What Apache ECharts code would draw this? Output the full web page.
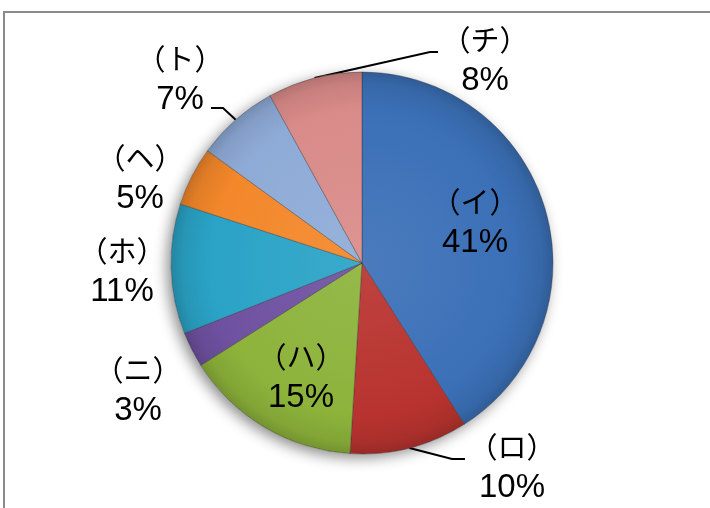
<!DOCTYPE html>
<html>
<head>
<meta charset="utf-8">
<script src="https://cdn.jsdelivr.net/npm/echarts@6/dist/echarts.min.js"></script>
<style>
html,body{margin:0;padding:0;background:#fff;}
#chart{width:710px;height:508px;}
</style>
</head>
<body>
<div id="chart"></div>
<script>
const categories = ['（イ）', '（ロ）', '（ハ）', '（ニ）', '（ホ）', '（ヘ）', '（ト）', '（チ）'];
const values = [41, 10, 15, 3, 11, 5, 7, 8];

const colors = ['#3b70b7', '#b8332f', '#8db33b', '#6f51a1', '#2aa3c6', '#f3872a', '#8eabd7', '#d98b89'];
const CX = 362, CY = 263, R = 191;

function shade(hex, f) {
  const n = parseInt(hex.slice(1), 16);
  let r = (n >> 16) & 255, g = (n >> 8) & 255, b = n & 255;
  const m = c => Math.max(0, Math.min(255, Math.round(f >= 0 ? c + (255 - c) * f : c * (1 + f))));
  return 'rgb(' + m(r) + ',' + m(g) + ',' + m(b) + ')';
}
function grad(hex) {
  return {
    type: 'radial', x: CX, y: CY, r: R, global: true,
    colorStops: [
      { offset: 0, color: shade(hex, 0.08) },
      { offset: 0.8, color: hex },
      { offset: 0.94, color: shade(hex, -0.08) },
      { offset: 1, color: shade(hex, -0.18) }
    ]
  };
}

// label placement (centre of each two-line label) and guide line ends
const labelPlace = [
  { x: 475, y: 224 },
  { x: 512, y: 469, line: [[452, 459], [465, 459]] },
  { x: 301, y: 379 },
  { x: 138, y: 392 },
  { x: 122, y: 273 },
  { x: 140, y: 180 },
  { x: 180, y: 81, line: [[223, 108], [211, 108]] },
  { x: 485, y: 62, line: [[430, 52], [438, 52]] }
];
const insideIdx = [0, 2];

const data = categories.map((name, i) => ({
  name: name,
  value: values[i],
  itemStyle: { color: grad(colors[i]) },
  label: { position: insideIdx.indexOf(i) >= 0 ? 'inside' : 'outside' },
  labelLine: { show: !!labelPlace[i].line }
}));

const FONT = "'Liberation Sans', 'Noto Sans CJK JP', sans-serif";
const chart = echarts.init(document.getElementById('chart'), null, { renderer: 'canvas' });
chart.setOption({
  backgroundColor: '#ffffff',
  animation: false,
  graphic: [{
    type: 'rect',
    shape: { x: 4, y: 12, width: 760, height: 560 },
    style: { fill: 'none', stroke: '#8a8a8a', lineWidth: 2 },
    silent: true
  }],
  series: [
    {
      type: 'pie',
      silent: true,
      center: [CX, CY],
      radius: R,
      label: { show: false },
      labelLine: { show: false },
      itemStyle: {
        color: '#ffffff',
        shadowBlur: 14,
        shadowColor: 'rgba(0,0,0,0.45)',
        shadowOffsetX: -4,
        shadowOffsetY: 4
      },
      data: [{ value: 1, name: '' }],
      z: 1
    },
    {
      type: 'pie',
      z: 2,
      center: [CX, CY],
      radius: R,
      startAngle: 90,
      clockwise: true,
      avoidLabelOverlap: false,
      itemStyle: { borderColor: 'rgba(40,40,40,0.45)', borderWidth: 0.8 },
      label: {
        show: true,
        formatter: p => '{n|' + p.name + '}\n{v|' + p.value + '%}',
        fontFamily: FONT,
        fontSize: 29,
        lineHeight: 38,
        color: '#000000',
        rich: {
          n: { fontFamily: FONT, fontSize: 29, lineHeight: 38, color: '#000000' },
          v: { fontFamily: FONT, fontSize: 33, lineHeight: 38, color: '#000000' }
        }
      },
      labelLine: {
        show: true,
        lineStyle: { color: '#000000', width: 2 }
      },
      labelLayout: function (params) {
        const p = labelPlace[params.dataIndex];
        const out = { x: p.x, y: p.y, align: 'center', verticalAlign: 'middle' };
        if (p.line && params.labelLinePoints && params.labelLinePoints.length) {
          out.labelLinePoints = [params.labelLinePoints[0]].concat(p.line);
        }
        return out;
      },
      emphasis: { disabled: true },
      data: data
    }
  ]
});
</script>
</body>
</html>
